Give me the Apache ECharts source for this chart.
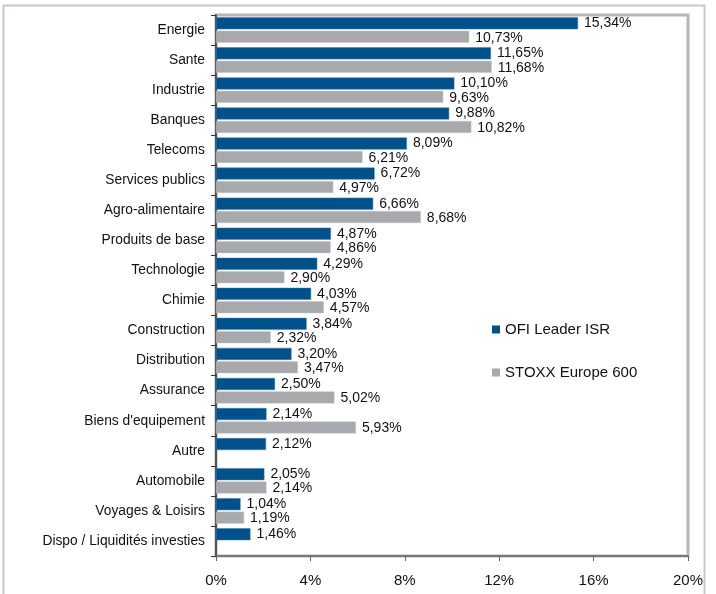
<!DOCTYPE html>
<html><head><meta charset="utf-8">
<script src="https://cdn.jsdelivr.net/npm/echarts@6/dist/echarts.min.js"></script>
<style>html,body{margin:0;padding:0;background:#fff}#c{width:716px;height:594px}</style>
</head><body><div id="c"></div>
<script>
const categories = ["Energie","Sante","Industrie","Banques","Telecoms","Services publics","Agro-alimentaire","Produits de base","Technologie","Chimie","Construction","Distribution","Assurance","Biens d'equipement","Autre","Automobile","Voyages & Loisirs","Dispo / Liquidités investies"];
const ofi = [15.34,11.65,10.10,9.88,8.09,6.72,6.66,4.87,4.29,4.03,3.84,3.20,2.50,2.14,2.12,2.05,1.04,1.46];
const stoxx = [10.73,11.68,9.63,10.82,6.21,4.97,8.68,4.86,2.90,4.57,2.32,3.47,5.02,5.93,null,2.14,1.19,null];
const xTicks = [0,4,8,12,16,20];

const fmt = p => p.value == null ? '' : p.value.toFixed(2).replace('.', ',') + '%';
const chart = echarts.init(document.getElementById('c'));
chart.setOption({
  animation: false,
  textStyle: {fontFamily: 'Liberation Sans, Arial, sans-serif'},
  graphic: [{type:'rect', shape:{x:3.5,y:5.5,width:701,height:600}, style:{fill:'none', stroke:'#c6c8ca', lineWidth:2}, z:-10}],
  grid: {left:216, right:28, top:15, bottom:38, show:true, borderColor:'#b4b6b8', borderWidth:3, backgroundColor:'transparent'},
  legend: {orient:'vertical', left:487, top:317, itemGap:28, icon:'rect', itemWidth:8, itemHeight:8,
    itemStyle:{borderWidth:0},
    textStyle:{fontSize:15, color:'#111'}, data:['OFI Leader ISR','STOXX Europe 600']},
  xAxis: {type:'value', min:xTicks[0], max:xTicks[xTicks.length-1], interval:4,
    axisLine:{show:true, lineStyle:{color:'#666', width:1.5}},
    axisTick:{show:true, length:5, lineStyle:{color:'#666'}},
    splitLine:{show:false},
    axisLabel:{formatter: v => v + '%', fontSize:15, color:'#111', margin:17}},
  yAxis: {type:'category', data:categories, inverse:true,
    axisLine:{show:true, lineStyle:{color:'#333', width:1.5}},
    axisTick:{show:true, length:5, lineStyle:{color:'#333'}},
    axisLabel:{fontSize:13.8, color:'#111', margin:11, padding:[1,0,0,0]}},
  series: [
    {name:'OFI Leader ISR', type:'bar', data:ofi, barWidth:12, barGap:'12%',
     itemStyle:{color:'#00508a', borderColor:'#3f7fb0', borderWidth:0.5},
     label:{show:true, position:'right', distance:6, formatter:fmt, fontSize:14, color:'#111', offset:[0,0]}},
    {name:'STOXX Europe 600', type:'bar', data:stoxx, barWidth:12,
     itemStyle:{color:'#a7a9ac', borderColor:'#c4c6c8', borderWidth:0.5},
     label:{show:true, position:'right', distance:6, formatter:fmt, fontSize:14, color:'#111', offset:[0,1]}}
  ]
});
</script></body></html>
